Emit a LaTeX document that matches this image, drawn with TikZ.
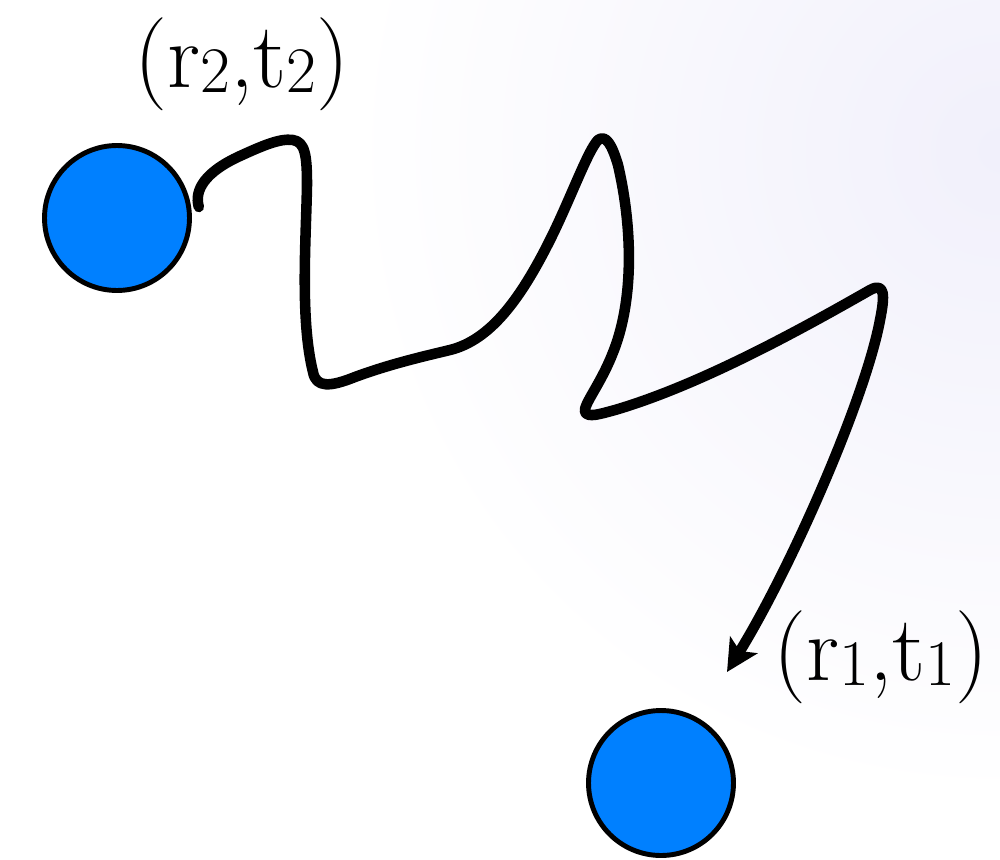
\documentclass[tikz,border=0pt]{standalone}
\usepackage{fontspec}
\usepackage{xcolor}
\usetikzlibrary{arrows.meta}
\definecolor{siteblue}{HTML}{0080FF}
\definecolor{haze}{HTML}{F1F0FB}
\newcommand\lowidx[1]{\raisebox{-2.8pt}{\fontsize{37}{40}\selectfont #1}}
\tikzset{
  site/.style={
    circle, draw=black, fill=siteblue, line width=2.8pt,
    minimum size=2.9cm, inner sep=0pt
  },
  poslabel/.style={
    font=\fontsize{53}{60}\selectfont, inner sep=0pt
  },
  walk/.style={
    line width=6pt, line cap=round, line join=round,
    -{Stealth[length=18pt, width=18pt, inset=4pt]}
  },
}

\begin{document}
\begin{tikzpicture}[x=0.02cm, y=-0.02cm]

  % background
  \fill[white] (0,0) rectangle (1000,859);
  \begin{scope}
    \clip (0,0) rectangle (1000,859);
    \shade[inner color=haze, outer color=white] (1000,150) circle (650);
  \end{scope}
  \useasboundingbox (0,0) rectangle (1000,859);

  % two positions
  \node[site] (p2) at (117,218) {};
  \node[site] (p1) at (661,783) {};
  \node[poslabel] (lab2) at (242,64) {(r\lowidx{2},t\lowidx{2})};
  \node[poslabel] (lab1) at (881,657) {(r\lowidx{1},t\lowidx{1})};
  \coordinate (tip) at (727,672);

  % random walk from (r2,t2) to (r1,t1)
  \draw[walk] ([shift={(8,2)}]p2.10) .. controls (194,190) and (205,172) .. (240,156)
    .. controls (262,146) and (280,138) .. (293,140)
    .. controls (305,142) and (307,155) .. (307,185)
    .. controls (306,240) and (300,320) .. (313,372)
    .. controls (316,388) and (330,387) .. (355,377)
    .. controls (390,364) and (425,356) .. (450,350)
    .. controls (490,340) and (520,300) .. (550,240)
    .. controls (570,200) and (588,150) .. (598,140)
    .. controls (606,134) and (612,145) .. (618,165)
    .. controls (632,225) and (635,300) .. (612,355)
    .. controls (600,385) and (583,405) .. (585,412)
    .. controls (588,418) and (600,414) .. (615,410)
    .. controls (700,385) and (800,330) .. (870,290)
    .. controls (885,282) and (885,295) .. (880,320)
    .. controls (865,400) and (790,570) .. (tip);
\end{tikzpicture}
\end{document}
